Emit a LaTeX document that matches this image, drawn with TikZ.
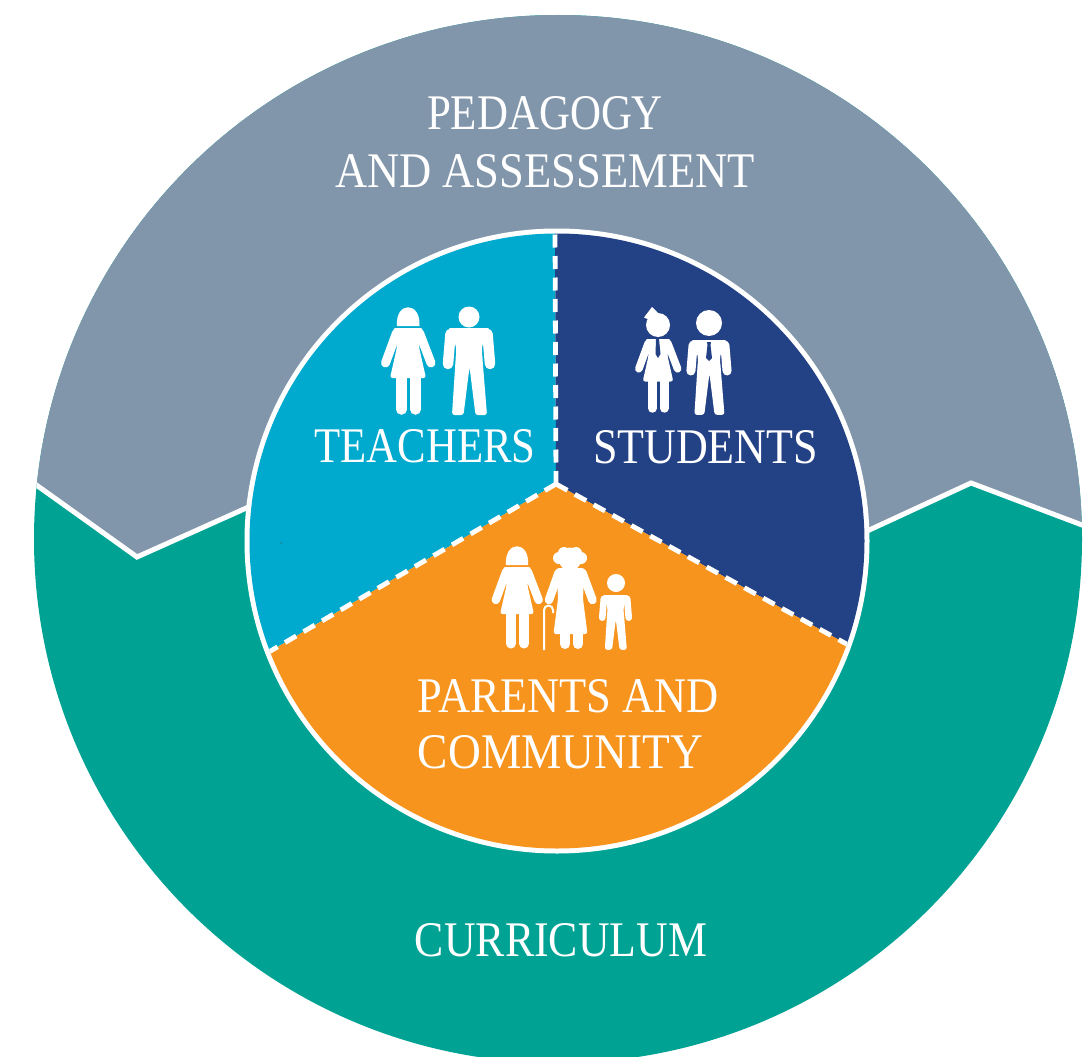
\documentclass[tikz,border=0pt]{standalone}
\usepackage{graphicx}
\usepackage{fontspec}
\setmainfont{Liberation Serif}
\definecolor{greyband}{HTML}{8296AB}
\definecolor{tealband}{HTML}{00A393}
\definecolor{cyanseg}{HTML}{00A9CE}
\definecolor{navyseg}{HTML}{234185}
\definecolor{orangeseg}{HTML}{F7941E}
\newcommand{\womanfig}[3]{\begin{scope}[shift={(#1,#2)},x=#3pt,y=-#3pt]
  \fill[figfill] (-15,0) -- (15,0) -- (11,19) -- (18,50) -- (-18,50) -- (-11,19) -- cycle;
  \draw[figline,line width=#3*9pt] (-11.5,5) -- (-22.5,35);
  \draw[figline,line width=#3*9pt] (11.5,5) -- (23,35);
  \draw[figline,line width=#3*10.5pt] (-6.5,45) -- (-6.5,81.5);
  \draw[figline,line width=#3*10.5pt] (7.5,45) -- (7.5,81.5);
\end{scope}}
\newcommand{\manfig}[3]{\begin{scope}[shift={(#1,#2)},x=#3pt,y=-#3pt]
  \fill[figfill] (-21,0) -- (21,0) -- (13,18) -- (13,40) -- (-13,40) -- (-13,18) -- cycle;
  \draw[figline,line width=#3*10.5pt] (-18.5,6) -- (-21,36);
  \draw[figline,line width=#3*10.5pt] (18.5,6) -- (21,36);
  \fill[figfill] (-13,25) -- (13,25) -- (18,87) -- (6.5,87) -- (0.5,39) -- (-5.5,87) -- (-17,87) -- cycle;
\end{scope}}
\tikzset{
  figfill/.style={fill=white,rounded corners=2.5pt},
  figline/.style={draw=white,line cap=round},
  seam/.style={draw=white,line width=4.8pt,dash pattern=on 13pt off 8.5pt},
  ttext/.style={text=white,inner sep=0pt,font=\fontsize{46}{46}\selectfont}
}
\newcommand{\capt}[2]{\resizebox{#1pt}{33pt}{#2}}
\begin{document}
\begin{tikzpicture}[x=1pt,y=-1pt]
\useasboundingbox (0,0) rectangle (1090,1057);
\coordinate (o) at (558,539);
\coordinate (c) at (557,541);
\coordinate (apex) at (556,484);
\coordinate (ptop) at (555,225);
\coordinate (pleft) at (262,656);
\coordinate (pright) at (852,647);
\begin{scope}
  \clip (0,0) rectangle (1090,1057);
  \begin{scope}
    \clip (o) circle (524pt);
    \fill[tealband] (0,0) rectangle (1090,1100);
    \fill[greyband] (0,459) -- (137,557) -- (300,484) -- (557,484) -- (800,562) -- (971,483) -- (1090,528) -- (1090,0) -- (0,0) -- cycle;
    \draw[white,line width=5pt,line join=miter] (0,459) -- (137,557) -- (300,484);
    \draw[white,line width=5pt,line join=miter] (800,562) -- (971,483) -- (1090,528);
  \end{scope}
\end{scope}
\fill[white] (c) circle (312.5pt);
\begin{scope}
  \clip (c) circle (307.5pt);
  \fill[cyanseg] (apex) -- (ptop) -- (0,225) -- (0,850) -- (pleft) -- cycle;
  \fill[navyseg] (apex) -- (ptop) -- (1090,225) -- (1090,850) -- (pright) -- cycle;
  \fill[orangeseg] (apex) -- (pleft) -- (262,900) -- (852,900) -- (pright) -- cycle;
  \draw[seam] (apex) -- (ptop);
  \draw[seam] (apex) -- (pleft);
  \draw[seam] (apex) -- (pright);
\end{scope}
\fill[black!70] (281,543) circle (0.7pt);
% teachers
\fill[white] (397,326) .. controls (395,301) and (421,301) .. (419.5,326) -- cycle;
\womanfig{408}{328}{1}
\fill[white] (469,317) circle (10.5pt);
\manfig{469}{328}{1}
% students
\fill[white] (658,325) circle (12pt);
\fill[white] (652,307) -- (644,317.5) -- (652,321) -- (659,314) -- cycle;
\womanfig{658}{339}{.85}
\fill[navyseg] (656,339) -- (659,339) -- (660.5,354) -- (658,358) -- (655.5,354) -- cycle;
\fill[white] (709,323) circle (13pt);
\manfig{709}{340}{.86}
\fill[navyseg] (707,342) -- (711,342) -- (710.5,345) -- (712,358) -- (709,361) -- (706,358) -- (707.5,345) -- cycle;
% parents
\fill[white] (506,565) .. controls (504,540) and (530,540) .. (528,565) -- cycle;
\womanfig{517}{567}{.94}
\fill[white] (570,559) circle (11.5pt) (559,558) circle (6pt) (581,558) circle (6pt) (564,553) circle (6pt) (576,553) circle (6pt);
\begin{scope}[shift={(570.5,569)}]
  \fill[figfill] (-14,-1) -- (14,-1) -- (12.5,30) -- (17,65) -- (-17,65) -- (-12.5,30) -- cycle;
  \draw[figline,line width=8.5pt] (-12,4) -- (-21.5,31);
  \draw[figline,line width=8.5pt] (12,4) -- (22,31);
  \draw[figline,line width=10pt] (-5.5,60) -- (-5.5,75);
  \draw[figline,line width=10pt] (7.5,60) -- (7.5,75);
\end{scope}
\draw[white,line width=2pt] (544,650) -- (544,610) arc[start angle=180,end angle=0,radius=4.5pt] -- (553,613);
\fill[white] (616,583) circle (9pt);
\manfig{615.5}{595}{.63}
% labels
\node[ttext] (ped) at (545,113.5) {\capt{236}{PEDAGOGY}};
\node[ttext] (ass) at (545,171) {\capt{420}{AND ASSESSEMENT}};
\node[ttext] (tea) at (425,446) {\capt{221}{TEACHERS}};
\node[ttext] (stu) at (705.5,447) {\capt{225}{STUDENTS}};
\node[ttext] (par) at (568.5,696) {\capt{301}{PARENTS AND}};
\node[ttext] (com) at (560.5,752) {\capt{285}{COMMUNITY}};
\node[ttext] (cur) at (561,940) {\capt{292}{CURRICULUM}};
\end{tikzpicture}
\end{document}
